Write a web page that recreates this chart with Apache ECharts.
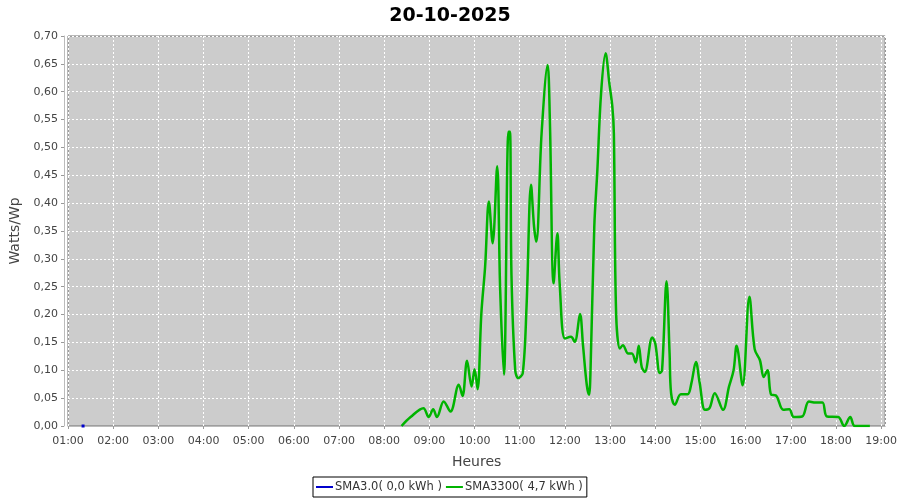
<!DOCTYPE html>
<html>
<head>
<meta charset="utf-8">
<script src="https://cdn.jsdelivr.net/npm/echarts@6/dist/echarts.min.js"></script>
<style>
  html, body { margin: 0; padding: 0; background: #fff; }
  #chart { width: 900px; height: 500px; }
</style>
</head>
<body>
<div id="chart"></div>
<script>
// heures de mesure et valeurs (Watts/Wp)
const sma30Times = ['01:20']
const sma30Values = [0]

const sma3300Times = [
  '08:23', '08:35', '08:52', '08:59', '09:05', '09:10', '09:19', '09:28', '09:39', '09:44',
  '09:50', '09:56', '10:00', '10:04', '10:09', '10:14', '10:19', '10:24', '10:30', '10:34',
  '10:39', '10:45', '10:47', '10:49', '10:54', '10:58', '11:04', '11:09', '11:15', '11:19',
  '11:22', '11:29', '11:37', '11:40', '11:45', '11:50', '11:53', '12:00', '12:08', '12:13',
  '12:20', '12:24', '12:29', '12:32', '12:34', '12:39', '12:43', '12:48', '12:54', '12:59',
  '13:03', '13:05', '13:08', '13:13', '13:17', '13:24', '13:29', '13:34', '13:38', '13:42',
  '13:46', '13:56', '14:00', '14:06', '14:09', '14:15', '14:19', '14:21', '14:26', '14:34',
  '14:43', '14:48', '14:54', '14:59', '15:06', '15:12', '15:19', '15:30', '15:38', '15:44',
  '15:48', '15:56', '16:05', '16:12', '16:19', '16:24', '16:29', '16:34', '16:40', '16:50',
  '16:58', '17:04', '17:15', '17:24', '17:33', '17:42', '17:48', '18:03', '18:11', '18:19',
  '18:25', '18:45'
]
const sma3300Values = [
  0.000, 0.016, 0.032, 0.016, 0.030, 0.016, 0.044, 0.026, 0.074, 0.054,
  0.117, 0.071, 0.102, 0.066, 0.202, 0.286, 0.403, 0.328, 0.466, 0.244,
  0.092, 0.528, 0.528, 0.271, 0.100, 0.086, 0.095, 0.214, 0.433, 0.358,
  0.331, 0.525, 0.648, 0.549, 0.256, 0.346, 0.256, 0.157, 0.160, 0.151,
  0.201, 0.145, 0.074, 0.056, 0.100, 0.358, 0.457, 0.597, 0.669, 0.615,
  0.573, 0.525, 0.202, 0.139, 0.145, 0.130, 0.130, 0.114, 0.144, 0.106,
  0.097, 0.159, 0.148, 0.095, 0.100, 0.260, 0.130, 0.059, 0.038, 0.057,
  0.057, 0.077, 0.115, 0.077, 0.029, 0.032, 0.059, 0.029, 0.071, 0.100,
  0.144, 0.073, 0.232, 0.138, 0.118, 0.088, 0.100, 0.056, 0.055, 0.029,
  0.030, 0.016, 0.017, 0.044, 0.042, 0.042, 0.017, 0.016, 0.000, 0.016,
  0.000, 0.000
]

const seriesNames = ['SMA3.0( 0,0 kWh )', 'SMA3300( 4,7 kWh )']

function toHours(t) {
  const p = t.split(':')
  return Number(p[0]) + Number(p[1]) / 60
}

function pairs(times, values) {
  return times.map((t, i) => [toHours(t), values[i]])
}

const chart = echarts.init(document.getElementById('chart'), null, { renderer: 'canvas' })
const font = 'DejaVu Sans'

chart.setOption({
  animation: false,
  backgroundColor: '#ffffff',
  title: {
    text: '20-10-2025',
    left: 'center',
    top: 2,
    textStyle: { fontFamily: font, fontSize: 19, fontWeight: 'bold', color: '#000' }
  },
  grid: {
    left: 68,
    right: 12,
    top: 36,
    bottom: 74,
    show: true,
    backgroundColor: '#cccccc',
    borderColor: '#707070',
    borderWidth: 1
  },
  legend: {
    data: seriesNames,
    left: 313,
    top: 477,
    width: 273,
    padding: [4, 4, 4, 3],
    itemGap: 4,
    itemWidth: 17,
    itemHeight: 2,
    icon: 'rect',
    borderColor: '#000',
    borderWidth: 1,
    backgroundColor: '#fff',
    textStyle: { fontFamily: font, fontSize: 11.5, color: '#333', padding: [0, 0, 0, -3] }
  },
  xAxis: {
    type: 'value',
    min: 1,
    max: 19.09,
    interval: 1,
    offset: 4,
    name: 'Heures',
    nameLocation: 'middle',
    nameGap: 25,
    nameTextStyle: { fontFamily: font, fontSize: 14, color: '#444' },
    axisLine: { show: true, lineStyle: { color: '#bbbbbb' } },
    axisTick: { show: true, length: 3, lineStyle: { color: '#999' } },
    axisLabel: {
      fontFamily: font,
      fontSize: 11,
      color: '#444',
      margin: 6,
      showMaxLabel: false,
      formatter: v => Number.isInteger(v) ? String(v).padStart(2, '0') + ':00' : ''
    },
    splitLine: { show: true, lineStyle: { color: '#ffffff', type: [2, 2], width: 1 } }
  },
  yAxis: {
    type: 'value',
    min: 0,
    max: 0.7,
    interval: 0.05,
    offset: 4,
    name: 'Watts/Wp',
    nameLocation: 'middle',
    nameGap: 33,
    nameTextStyle: { fontFamily: font, fontSize: 14, color: '#444' },
    axisLine: { show: true, lineStyle: { color: '#bbbbbb' } },
    axisTick: { show: true, length: 3, lineStyle: { color: '#999' } },
    axisLabel: {
      fontFamily: font,
      fontSize: 11,
      color: '#444',
      margin: 6,
      formatter: v => v.toFixed(2).replace('.', ',')
    },
    splitLine: { show: true, lineStyle: { color: '#ffffff', type: [2, 2], width: 1 } }
  },
  series: [
    {
      name: seriesNames[0],
      type: 'line',
      data: pairs(sma30Times, sma30Values),
      color: '#0000cc',
      showSymbol: true,
      symbol: 'rect',
      symbolSize: 3,
      lineStyle: { width: 2 }
    },
    {
      name: seriesNames[1],
      type: 'line',
      data: pairs(sma3300Times, sma3300Values),
      color: '#00b400',
      smooth: 0.35,
      showSymbol: false,
      lineStyle: { width: 2.5 }
    }
  ]
})
</script>
</body>
</html>
